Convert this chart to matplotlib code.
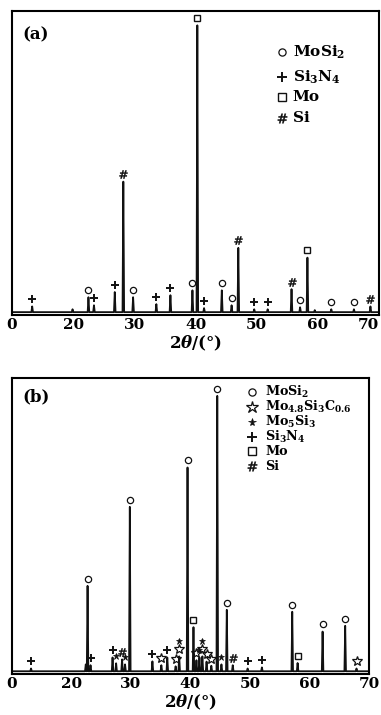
import matplotlib
matplotlib.use('Agg')
import matplotlib.pyplot as plt

plt.rcParams['font.family'] = ['DejaVu Serif']
plt.rcParams['font.weight'] = 'bold'
plt.rcParams['mathtext.fontset'] = 'custom'
plt.rcParams['mathtext.rm'] = 'DejaVu Serif:bold'
plt.rcParams['mathtext.it'] = 'DejaVu Serif:italic:bold'
plt.rcParams['mathtext.bf'] = 'DejaVu Serif:bold'
plt.rcParams['mathtext.default'] = 'rm'

# peak positions (2theta), relative intensities and phase marks
a_pos = [13.3, 19.9, 22.5, 23.4, 26.8, 28.2, 29.8, 33.6, 35.9, 39.5, 40.3, 41.4,
         44.3, 45.9, 47.0, 49.6, 51.8, 55.7, 57.1, 58.3, 59.5, 62.2, 65.9, 68.6]
a_int = [2, 1, 5.2, 2.4, 7, 45.5, 5.2, 2.8, 5.9, 7.6, 100, 1.4,
         7.6, 2.4, 22.4, 1, 1, 8, 1.7, 19, 0.7, 1, 1, 2]
a_phase = ['+', '', 'o', '+', '+', '#', 'o', '+', '+', 'o', 's', '+',
           'o', 'o', '#', '+', '+', '#', 'o', 's', '', 'o', 'o', '#']

b_pos = [13.2, 22.4, 22.7, 23.2, 26.9, 27.5, 28.5, 29.0, 29.8, 33.6, 35.1, 36.1,
         37.5, 38.1, 39.5, 40.5, 41.0, 41.5, 42.0, 42.7, 43.5, 44.5, 45.2, 46.1,
         47.1, 49.6, 52.0, 57.1, 58.0, 62.2, 66.0, 67.9]
b_int = [1, 2.5, 31, 2.2, 5, 2.9, 4.3, 2.5, 59.7, 3.6, 2.2, 5,
         1.8, 5.4, 74, 16, 4, 5, 5.4, 3.5, 2, 100, 2.5, 22.3,
         2.2, 1, 1.4, 21.6, 3, 14.4, 16.5, 1]
b_phase = ['+', '', 'o', '+', '+', '*', '#', '*', 'o', '+', 'S', '+',
           'S', 'S*', 'o', 's', 'S', '*', 'S*', 'S', 'S', 'o', '*', 'o',
           '#', '+', '+', 'o', 's', 'o', 'o', 'S']

a_legend = [('o', 'MoSi$_2$'), ('+', 'Si$_3$N$_4$'), ('s', 'Mo'), ('#', 'Si')]
b_legend = [('o', 'MoSi$_2$'), ('S', 'Mo$_{4.8}$Si$_3$C$_{0.6}$'), ('*', 'Mo$_5$Si$_3$'),
            ('+', 'Si$_3$N$_4$'), ('s', 'Mo'), ('#', 'Si')]

tick_pos = [10, 20, 30, 40, 50, 60, 70]
tick_lab = ['0', '20', '30', '40', '50', '60', '70']

# marker styles for each phase code
sty = {
    'o': dict(marker='o', mfc='none', ms=4.5, mew=0.9),
    '+': dict(marker='+', ms=6, mew=1.4),
    's': dict(marker='s', mfc='none', ms=5, mew=1.0),
    '#': dict(marker=r'$\#$', ms=6, mew=0.2),
    '*': dict(marker='*', ms=5, mew=0.5),
    'S': dict(marker='*', mfc='none', ms=7.5, mew=0.9),
}


def trace(pos, inten, w=0.13):
    xs, ys = [10], [0]
    for p, h in sorted(zip(pos, inten)):
        xs += [p - w, p, p + w]
        ys += [0, h, 0]
    xs.append(70)
    ys.append(0)
    return xs, ys


def draw(ax, pos, inten, phase, legend, ytop, lx, tx, ly, lfs, label, label_y):
    xs, ys = trace(pos, inten)
    ax.plot(xs, ys, color='#111111', lw=1.3)
    for p, h, ph in zip(pos, inten, phase):
        for k, c in enumerate(ph):
            ax.plot(p, h + 2.6 + 3.0 * k, color='#111111', ls='none', **sty[c])
    for (c, t), y in zip(legend, ly):
        s = dict(sty[c])
        s['ms'] = s['ms'] * 1.15
        ax.plot(lx, y, transform=ax.transAxes, color='#111111', ls='none', clip_on=False, **s)
        ax.text(tx, y, t, transform=ax.transAxes, fontsize=lfs, fontweight='bold',
                va='center', ha='left')
    ax.text(0.028, label_y, label, transform=ax.transAxes, fontsize=12, fontweight='bold',
            va='center', ha='left')
    ax.set_xlim(10, 70)
    ax.set_ylim(-1, ytop)
    ax.set_yticks([])
    ax.set_xticks(tick_pos)
    ax.set_xticklabels(tick_lab, fontsize=11, fontweight='bold')
    ax.tick_params(axis='x', length=0, pad=2)
    for sp in ax.spines.values():
        sp.set_linewidth(1.5)
    ax.set_xlabel(r'2$\mathit{\theta}$/(°)', fontsize=12, fontweight='bold', labelpad=1.5)


fig = plt.figure(figsize=(3.81, 7.15), dpi=100)
ax_a = fig.add_axes([12 / 381, 400 / 715, 367 / 381, 304 / 715])
ax_b = fig.add_axes([12 / 381, 41 / 715, 357 / 381, 296 / 715])

draw(ax_a, a_pos, a_int, a_phase, a_legend, 105, 0.736, 0.765,
     [0.865, 0.783, 0.717, 0.648], 11, '(a)', 0.92)
draw(ax_b, b_pos, b_int, b_phase, b_legend, 106.5, 0.672, 0.709,
     [0.952, 0.902, 0.852, 0.802, 0.752, 0.702], 9.2, '(b)', 0.936)

lab = ax_a.get_xticklabels()[-1]
lab.set_ha('right')

fig.savefig('out.png', dpi=100, facecolor='white')
